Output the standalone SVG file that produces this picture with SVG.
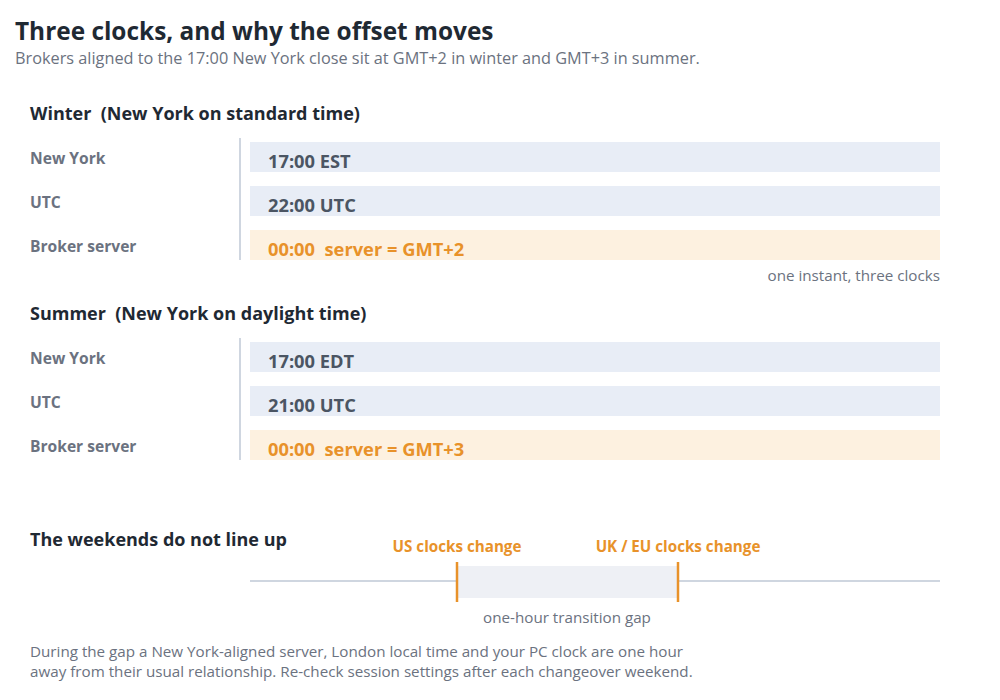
<svg xmlns="http://www.w3.org/2000/svg" width="1000" height="700" viewBox="0 0 1000 700">
<style>
text{font-family:"Open Sans","Noto Sans","Liberation Sans",sans-serif;white-space:pre}
.title{font-size:24.4px;font-weight:700;fill:#1f2933}
.sub{font-size:16.3px;fill:#6b7280}
.head{font-size:18px;font-weight:700;fill:#1f2933}
.lab{font-size:15.6px;font-weight:700;fill:#6b7280}
.val{font-size:18.3px;font-weight:700;fill:#4b5563}
.valo{font-size:18.3px;font-weight:700;fill:#e8922a}
.note{font-size:15.2px;fill:#6b7280}
.orl{font-size:15.2px;font-weight:700;fill:#e8922a}
.bar{fill:#e8edf6}
.baro{fill:#fdf1e0}
.axis{stroke:#cfd6e0;stroke-width:2}
.tick{stroke:#e8922a;stroke-width:2.5}
</style>
<rect width="1000" height="700" fill="#ffffff"/>
<text class="title" x="15" y="40">Three clocks, and why the offset moves</text>
<text class="sub" x="15" y="64">Brokers aligned to the 17:00 New York close sit at GMT+2 in winter and GMT+3 in summer.</text>

<g id="winter">
<text class="head" x="30" y="120" xml:space="preserve">Winter  (New York on standard time)</text>
<line class="axis" x1="240" y1="138" x2="240" y2="260"/>
<g id="w-ny"><text class="lab" x="30" y="164">New York</text><rect class="bar" x="250" y="142" width="690" height="30"/><text class="val" x="268" y="168">17:00 EST</text></g>
<g id="w-utc"><text class="lab" x="30" y="208">UTC</text><rect class="bar" x="250" y="186" width="690" height="30"/><text class="val" x="268" y="212">22:00 UTC</text></g>
<g id="w-srv"><text class="lab" x="30" y="252">Broker server</text><rect class="baro" x="250" y="230" width="690" height="30"/><text class="valo" x="268" y="256" xml:space="preserve">00:00  server = GMT+2</text></g>
<text class="note" x="940" y="281" text-anchor="end">one instant, three clocks</text>
</g>

<g id="summer">
<text class="head" x="30" y="320" xml:space="preserve">Summer  (New York on daylight time)</text>
<line class="axis" x1="240" y1="338" x2="240" y2="460"/>
<g id="s-ny"><text class="lab" x="30" y="364">New York</text><rect class="bar" x="250" y="342" width="690" height="30"/><text class="val" x="268" y="368">17:00 EDT</text></g>
<g id="s-utc"><text class="lab" x="30" y="408">UTC</text><rect class="bar" x="250" y="386" width="690" height="30"/><text class="val" x="268" y="412">21:00 UTC</text></g>
<g id="s-srv"><text class="lab" x="30" y="452">Broker server</text><rect class="baro" x="250" y="430" width="690" height="30"/><text class="valo" x="268" y="456" xml:space="preserve">00:00  server = GMT+3</text></g>
</g>

<g id="weekends">
<text class="head" x="30" y="546">The weekends do not line up</text>
<line class="axis" x1="250" y1="581" x2="940" y2="581"/>
<rect x="457" y="566" width="221" height="32" fill="#eef0f5"/>
<line class="tick" x1="457" y1="562" x2="457" y2="602"/>
<line class="tick" x1="678" y1="562" x2="678" y2="602"/>
<text class="orl" x="457" y="552" text-anchor="middle">US clocks change</text>
<text class="orl" x="678" y="552" text-anchor="middle">UK / EU clocks change</text>
<text class="note" x="567" y="623" text-anchor="middle">one-hour transition gap</text>
<text class="note" x="30" y="657">During the gap a New York-aligned server, London local time and your PC clock are one hour</text>
<text class="note" x="30" y="677">away from their usual relationship. Re-check session settings after each changeover weekend.</text>
</g>
</svg>
